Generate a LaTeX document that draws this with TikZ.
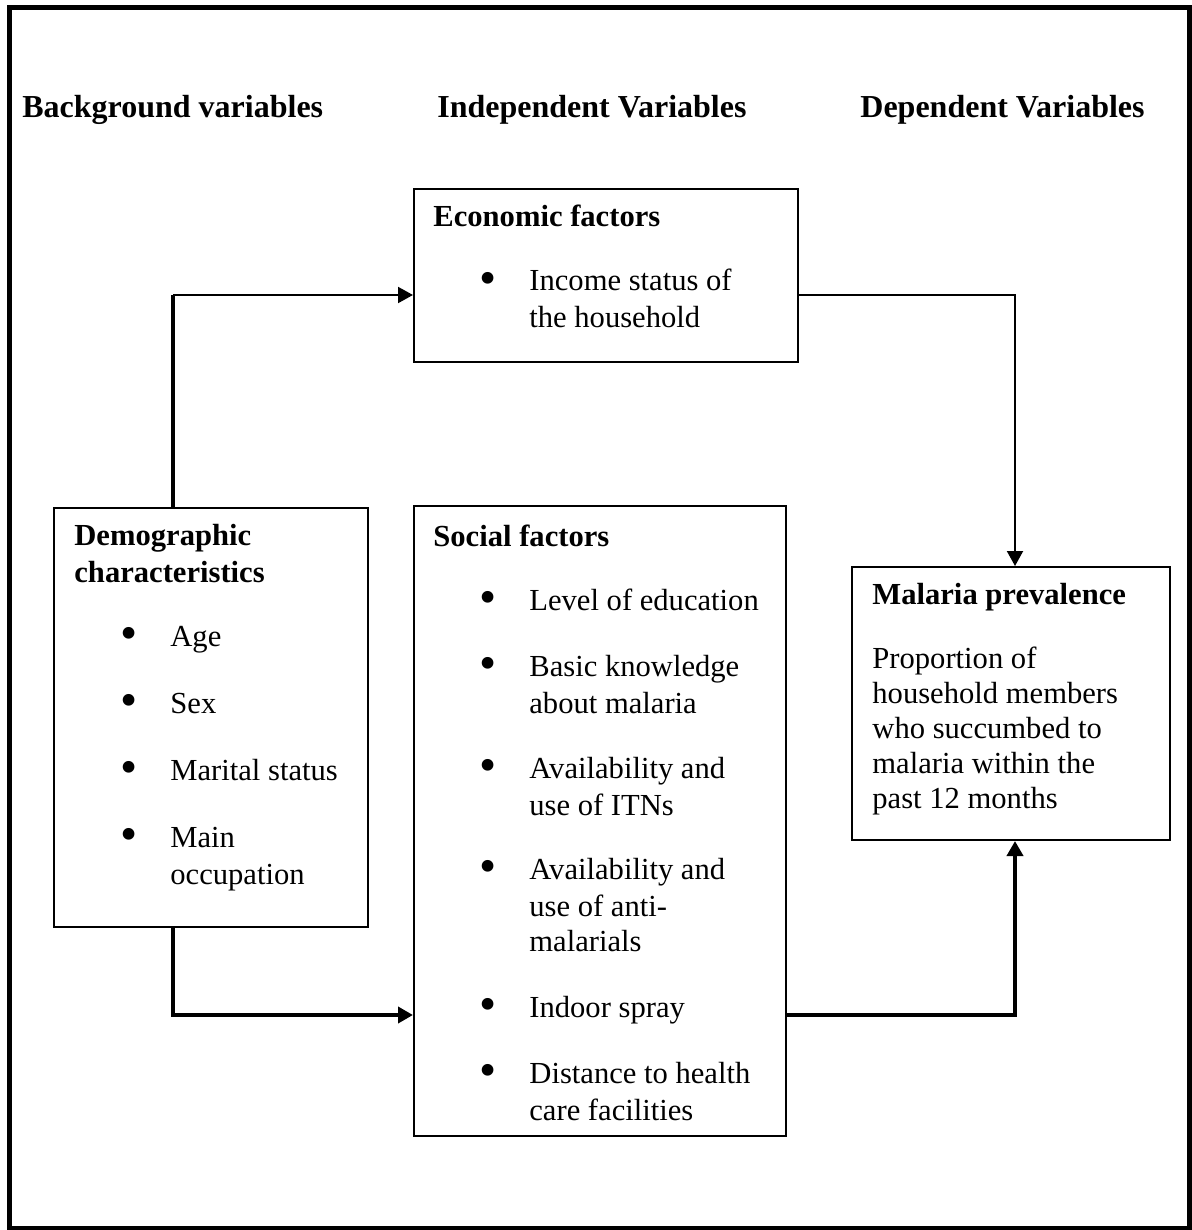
\documentclass[tikz,border=0pt]{standalone}
\usepackage{fontspec}
\usepackage{graphicx}
\setmainfont{Liberation Serif}
\usetikzlibrary{arrows.meta}
\tikzset{%
    box/.style={draw,line width=1pt,rectangle,inner sep=0pt,anchor=north west},
    txt/.style={inner sep=0pt,anchor=base west}
}
\newcommand{\hd}[1]{{\fontsize{16}{18.5}\selectfont\bfseries #1}}
\newcommand{\bt}[1]{{\fontsize{15.3}{18.5}\selectfont\bfseries #1}}
\newcommand{\bul}{\makebox[48pt][l]{\makebox[55pt][c]{\raisebox{-0.12em}{\scalebox{1.6}{\textbullet}}}}}

\begin{document}
\begin{tikzpicture}[x=0.5pt,y=-0.5pt,
            font=\fontsize{15.3}{18.5}\selectfont,
            conn/.style={line width=1pt},
            heavy/.style={line width=2pt},
            tip/.style={-{Triangle[length=7.5pt,width=8pt]}}
            ]
            \useasboundingbox (0,0) rectangle (1191,1230);
            \draw[line width=2.5pt] (9.5,8) rectangle (1189,1228.5);
            % column headings
            \node[txt] (hbg) at (22,118) {\hd{Background variables}};
            \node[txt] (hind) at (437,118) {\hd{Independent Variables}};
            \node[txt] (hdep) at (860,118) {\hd{Dependent Variables}};
            % boxes
            \node[box,minimum width=192pt,minimum height=86.5pt] (econ) at (413,188) {};
            \node[box,minimum width=157pt,minimum height=209.5pt] (demog) at (53,507) {};
            \node[box,minimum width=186pt,minimum height=315pt] (social) at (413,505) {};
            \node[box,minimum width=159pt,minimum height=136.5pt] (mal) at (851,566) {};
            % box texts
            \node[txt] (econtxt) at (433,227) {\begin{tabular}[t]{@{}l@{}l@{}}
                \multicolumn{2}{@{}l@{}}{\bt{Economic factors}}\\[13.5pt]
                \bul & Income status of\\
                & the household
            \end{tabular}};
            \node[txt] (demogtxt) at (74,545) {\begin{tabular}[t]{@{}l@{}l@{}}
                \multicolumn{2}{@{}l@{}}{\bt{Demographic}}\\
                \multicolumn{2}{@{}l@{}}{\bt{characteristics}}\\[13.5pt]
                \bul & Age\\[15pt]
                \bul & Sex\\[15pt]
                \bul & Marital status\\[15pt]
                \bul & Main\\
                & occupation
            \end{tabular}};
            \node[txt] (socialtxt) at (433,546) {\begin{tabular}[t]{@{}l@{}l@{}}
                \multicolumn{2}{@{}l@{}}{\bt{Social factors}}\\[13.5pt]
                \bul & Level of education\\[14.5pt]
                \bul & Basic knowledge\\
                & about malaria\\[14pt]
                \bul & Availability and\\
                & use of ITNs\\[13.5pt]
                \bul & Availability and\\
                & use of anti-\\[-1pt]
                & malarials\\[14.5pt]
                \bul & Indoor spray\\[14.5pt]
                \bul & Distance to health\\
                & care facilities
            \end{tabular}};
            \node[txt] (maltxt) at (872,604) {\fontsize{15.3}{17.5}\selectfont\begin{tabular}[t]{@{}l@{}}
                \bt{Malaria prevalence}\\[14.5pt]
                Proportion of\\
                household members\\
                who succumbed to\\
                malaria within the\\
                past 12 months
            \end{tabular}};
            % connectors
            \coordinate (c1) at (173,295);
            \coordinate (c2) at (1015,295);
            \coordinate (c3) at (173,1015);
            \coordinate (c4) at (1015,1015);
            \draw[heavy] (demog.north -| c1) -- (c1);
            \draw[conn,tip] (c1) -- (econ.west |- c1);
            \draw[conn,tip] (econ.east |- c2) -| (mal.north -| c2);
            \draw[heavy,tip] (demog.south -| c3) |- (social.west |- c3);
            \draw[heavy,tip] (social.east |- c4) -| (mal.south -| c4);
        \end{tikzpicture}
\end{document}
